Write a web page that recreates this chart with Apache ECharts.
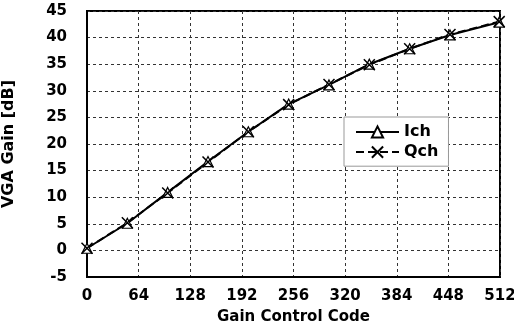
<!DOCTYPE html>
<html><head><meta charset="utf-8">
<script src="https://cdn.jsdelivr.net/npm/echarts@6/dist/echarts.min.js"></script>
<style>html,body{margin:0;padding:0;background:#fff}#c{width:514px;height:332px}</style>
</head><body><div id="c"></div>
<script>
const codes = [0, 50, 100, 150, 200, 250, 300, 350, 400, 450, 511];
const ich = [0.4, 5.1, 10.9, 16.7, 22.3, 27.5, 31.1, 35.0, 37.9, 40.5, 42.9];
const qch = [0.4, 5.2, 10.8, 16.6, 22.3, 27.4, 31.2, 34.9, 37.9, 40.6, 43.0];
const xTicks = [0, 64, 128, 192, 256, 320, 384, 448, 512];
const yTicks = [-5, 0, 5, 10, 15, 20, 25, 30, 35, 40, 45];

const FONT = 'DejaVu Sans, sans-serif';
const chart = echarts.init(document.getElementById('c'), null, {renderer: 'canvas'});
const xSym = 'path://M0,0L10,10M10,0L0,10';
chart.setOption({
  animation: false,
  backgroundColor: '#fff',
  grid: {left: 87, right: 14, top: 11, bottom: 55, show: true, borderColor: '#000', borderWidth: 2,
         backgroundColor: 'transparent', containLabel: false, outerBoundsMode: 'none'},
  legend: {
    orient: 'vertical', left: 344, top: 117, width: 106,
    backgroundColor: '#fff', borderColor: '#999', borderWidth: 1,
    padding: [7, 10, 6, 11], itemGap: 4, itemWidth: 43, itemHeight: 14,
    textStyle: {fontFamily: FONT, fontWeight: 'bold', fontSize: 16, color: '#000'},
    data: ['Ich', 'Qch']
  },
  xAxis: {
    type: 'value', min: xTicks[0], max: xTicks[xTicks.length - 1], interval: 64,
    name: 'Gain Control Code', nameLocation: 'middle', nameGap: 33,
    nameTextStyle: {fontFamily: FONT, fontWeight: 'bold', fontSize: 15, color: '#000'},
    axisLine: {onZero: false, lineStyle: {color: '#000', width: 2}},
    axisTick: {show: false},
    axisLabel: {fontFamily: FONT, fontWeight: 'bold', fontSize: 15, color: '#000', margin: 12},
    splitLine: {show: true, lineStyle: {color: '#333', type: [3, 3], width: 1}}
  },
  yAxis: {
    type: 'value', min: yTicks[0], max: yTicks[yTicks.length - 1], interval: 5,
    name: 'VGA Gain [dB]', nameLocation: 'middle', nameGap: 70, nameRotate: 90,
    nameTextStyle: {fontFamily: FONT, fontWeight: 'bold', fontSize: 16, color: '#000'},
    axisLine: {onZero: false, lineStyle: {color: '#000', width: 2}},
    axisTick: {show: false},
    axisLabel: {fontFamily: FONT, fontWeight: 'bold', fontSize: 15, color: '#000', margin: 20},
    splitLine: {show: true, lineStyle: {color: '#333', type: [3, 3], width: 1}}
  },
  series: [
    {
      name: 'Ich', type: 'line', data: codes.map((c, i) => [c, ich[i]]),
      symbol: 'triangle', symbolSize: 10, showAllSymbol: true,
      lineStyle: {color: '#000', width: 2},
      itemStyle: {color: '#fff', borderColor: '#000', borderWidth: 1.2}
    },
    {
      name: 'Qch', type: 'line', data: codes.map((c, i) => [c, qch[i]]),
      symbol: xSym, symbolSize: 11, showAllSymbol: true,
      lineStyle: {color: '#000', width: 2, type: [8, 4]},
      itemStyle: {color: 'none', borderColor: '#000', borderWidth: 1.5}
    }
  ]
});
</script></body></html>
